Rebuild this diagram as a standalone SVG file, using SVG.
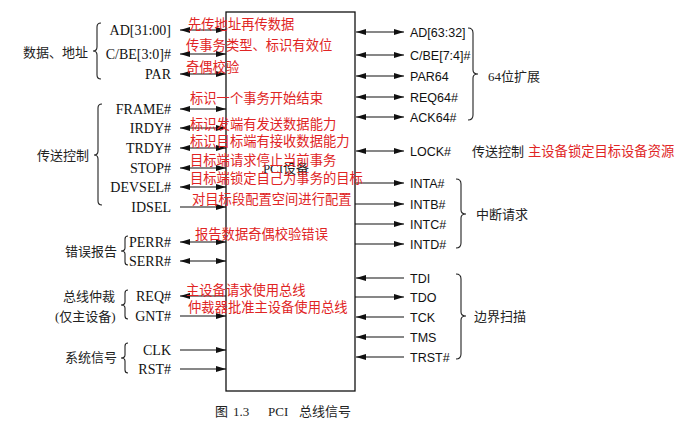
<svg xmlns="http://www.w3.org/2000/svg" width="687" height="423" viewBox="0 0 687 423">
<style>
.sl{font-family:"Liberation Serif","Noto Sans CJK SC",serif;font-size:14px;fill:#111;text-anchor:end}
.sr{font-family:"Liberation Sans","Noto Sans CJK SC",sans-serif;font-size:12.5px;fill:#111}
.cn{font-family:"Liberation Serif","Noto Sans CJK SC",serif;font-size:13px;fill:#222}
.red{font-family:"Noto Sans CJK SC",sans-serif;font-size:13.3px;fill:#e02424}
.ln{stroke:#111;stroke-width:1.2;fill:none}
.br{stroke:#222;stroke-width:1.1;fill:none}
</style>
<defs>
<marker id="ah" viewBox="0 0 10 6" refX="10" refY="3" markerWidth="10" markerHeight="6" markerUnits="userSpaceOnUse" orient="auto-start-reverse"><path d="M0,0 L10,3 L0,6 z" fill="#111"/></marker>
</defs>
<rect width="687" height="423" fill="#fff"/>

<g id="device">
<rect x="226" y="12" width="129" height="379" fill="#fff" stroke="#111" stroke-width="1.3"/>
<text x="286" y="173" class="cn" text-anchor="middle" font-size="14">PCI设备</text>
</g>

<g id="connectors">
<line class="ln" x1="180" y1="30" x2="226" y2="30" marker-start="url(#ah)" marker-end="url(#ah)"/>
<line class="ln" x1="180" y1="54" x2="226" y2="54" marker-start="url(#ah)" marker-end="url(#ah)"/>
<line class="ln" x1="180" y1="74" x2="226" y2="74" marker-start="url(#ah)" marker-end="url(#ah)"/>
<line class="ln" x1="180" y1="109" x2="226" y2="109" marker-start="url(#ah)" marker-end="url(#ah)"/>
<line class="ln" x1="180" y1="128" x2="226" y2="128" marker-start="url(#ah)" marker-end="url(#ah)"/>
<line class="ln" x1="180" y1="148" x2="226" y2="148" marker-start="url(#ah)" marker-end="url(#ah)"/>
<line class="ln" x1="180" y1="168" x2="226" y2="168" marker-start="url(#ah)" marker-end="url(#ah)"/>
<line class="ln" x1="180" y1="187" x2="226" y2="187" marker-start="url(#ah)" marker-end="url(#ah)"/>
<line class="ln" x1="180" y1="207" x2="226" y2="207" marker-end="url(#ah)"/>
<line class="ln" x1="180" y1="242" x2="226" y2="242" marker-start="url(#ah)" marker-end="url(#ah)"/>
<line class="ln" x1="180" y1="261" x2="226" y2="261" marker-start="url(#ah)" marker-end="url(#ah)"/>
<line class="ln" x1="180" y1="296" x2="226" y2="296" marker-start="url(#ah)"/>
<line class="ln" x1="180" y1="316" x2="226" y2="316" marker-end="url(#ah)"/>
<line class="ln" x1="180" y1="350" x2="226" y2="350" marker-end="url(#ah)"/>
<line class="ln" x1="180" y1="369" x2="226" y2="369" marker-end="url(#ah)"/>
<line class="ln" x1="356" y1="32" x2="404" y2="32" marker-start="url(#ah)" marker-end="url(#ah)"/>
<line class="ln" x1="356" y1="55" x2="404" y2="55" marker-start="url(#ah)" marker-end="url(#ah)"/>
<line class="ln" x1="356" y1="76" x2="404" y2="76" marker-start="url(#ah)" marker-end="url(#ah)"/>
<line class="ln" x1="356" y1="97" x2="404" y2="97" marker-start="url(#ah)" marker-end="url(#ah)"/>
<line class="ln" x1="356" y1="117" x2="404" y2="117" marker-start="url(#ah)" marker-end="url(#ah)"/>
<line class="ln" x1="356" y1="151" x2="404" y2="151" marker-start="url(#ah)" marker-end="url(#ah)"/>
<line class="ln" x1="355" y1="183" x2="404" y2="183" marker-end="url(#ah)"/>
<line class="ln" x1="355" y1="204" x2="404" y2="204" marker-end="url(#ah)"/>
<line class="ln" x1="355" y1="224" x2="404" y2="224" marker-end="url(#ah)"/>
<line class="ln" x1="355" y1="244" x2="404" y2="244" marker-end="url(#ah)"/>
<line class="ln" x1="356" y1="278" x2="404" y2="278" marker-start="url(#ah)"/>
<line class="ln" x1="355" y1="297" x2="404" y2="297" marker-end="url(#ah)"/>
<line class="ln" x1="356" y1="317" x2="404" y2="317" marker-start="url(#ah)"/>
<line class="ln" x1="356" y1="337" x2="404" y2="337" marker-start="url(#ah)"/>
<line class="ln" x1="356" y1="357" x2="404" y2="357" marker-start="url(#ah)"/>
</g>

<g id="left-signals">
<text class="sl" x="171" y="35">AD[31:00]</text>
<text class="sl" x="171" y="59">C/BE[3:0]#</text>
<text class="sl" x="171" y="79">PAR</text>
<text class="sl" x="171" y="114">FRAME#</text>
<text class="sl" x="171" y="133">IRDY#</text>
<text class="sl" x="171" y="153">TRDY#</text>
<text class="sl" x="171" y="173">STOP#</text>
<text class="sl" x="171" y="192">DEVSEL#</text>
<text class="sl" x="171" y="212">IDSEL</text>
<text class="sl" x="171" y="247">PERR#</text>
<text class="sl" x="171" y="266">SERR#</text>
<text class="sl" x="171" y="301">REQ#</text>
<text class="sl" x="171" y="321">GNT#</text>
<text class="sl" x="171" y="355">CLK</text>
<text class="sl" x="171" y="374">RST#</text>
</g>

<g id="right-signals">
<text class="sr" x="410" y="37">AD[63:32]</text>
<text class="sr" x="410" y="60">C/BE[7:4]#</text>
<text class="sr" x="410" y="81">PAR64</text>
<text class="sr" x="410" y="102">REQ64#</text>
<text class="sr" x="410" y="122">ACK64#</text>
<text class="sr" x="410" y="156">LOCK#</text>
<text class="sr" x="410" y="188">INTA#</text>
<text class="sr" x="410" y="209">INTB#</text>
<text class="sr" x="410" y="229">INTC#</text>
<text class="sr" x="410" y="249">INTD#</text>
<text class="sr" x="410" y="283">TDI</text>
<text class="sr" x="410" y="302">TDO</text>
<text class="sr" x="410" y="322">TCK</text>
<text class="sr" x="410" y="342">TMS</text>
<text class="sr" x="410" y="362">TRST#</text>
</g>

<g id="groups-left">
<path class="br" d="M101,23 Q97,23 97,27 L97,47 Q97,51 93,51 Q97,51 97,55 L97,75 Q97,79 101,79"/>
<text class="cn" x="23" y="57">数据、地址</text>
<path class="br" d="M102,104 Q98,104 98,108 L98,151 Q98,155 94,155 Q98,155 98,159 L98,201 Q98,205 102,205"/>
<text class="cn" x="37" y="160">传送控制</text>
<path class="br" d="M128,236 Q125,236 125,239 L125,248 Q125,251 121,251 Q125,251 125,254 L125,262 Q125,265 128,265"/>
<text class="cn" x="65" y="256">错误报告</text>
<path class="br" d="M128,290 Q125,290 125,293 L125,302 Q125,305 121,305 Q125,305 125,308 L125,316 Q125,319 128,319"/>
<text class="cn" x="63" y="301">总线仲裁</text>
<text class="cn" x="55" y="321">(仅主设备)</text>
<path class="br" d="M128,343 Q125,343 125,346 L125,355 Q125,358 121,358 Q125,358 125,361 L125,370 Q125,373 128,373"/>
<text class="cn" x="65" y="362">系统信号</text>
</g>

<g id="groups-right">
<path class="br" d="M468,28 Q473,28 473,33 L473,70 Q473,74 478,74 Q473,74 473,78 L473,115 Q473,120 468,120"/>
<text class="cn" x="488" y="81">64位扩展</text>
<text class="cn" x="472" y="156">传送控制</text>
<path class="br" d="M456,179 Q461,179 461,184 L461,210 Q461,214 466,214 Q461,214 461,218 L461,243 Q461,248 456,248"/>
<text class="cn" x="476" y="219">中断请求</text>
<path class="br" d="M456,274 Q461,274 461,279 L461,312 Q461,316 466,316 Q461,316 461,320 L461,354 Q461,359 456,359"/>
<text class="cn" x="474" y="321">边界扫描</text>
</g>

<g id="annotations">
<text class="red" x="188" y="29">先传地址再传数据</text>
<text class="red" x="186" y="50">传事务类型、标识有效位</text>
<text class="red" x="186" y="72">奇偶校验</text>
<text class="red" x="190" y="103">标识一个事务开始结束</text>
<text class="red" x="190" y="129">标识发端有发送数据能力</text>
<text class="red" x="190" y="146">标识目标端有接收数据能力</text>
<text class="red" x="190" y="165">目标端请求停止当前事务</text>
<text class="red" x="190" y="183">目标端锁定自己为事务的目标</text>
<text class="red" x="192" y="204">对目标段配置空间进行配置</text>
<text class="red" x="195" y="239">报告数据奇偶校验错误</text>
<text class="red" x="186" y="295">主设备请求使用总线</text>
<text class="red" x="188" y="312">仲裁器批准主设备使用总线</text>
<text class="red" x="528" y="156">主设备锁定目标设备资源</text>
</g>

<g id="caption">
<text class="cn" y="416" font-size="14"><tspan x="215">图</tspan><tspan x="233">1.3</tspan><tspan x="268">PCI</tspan><tspan x="299">总线信号</tspan></text>
</g>
</svg>
